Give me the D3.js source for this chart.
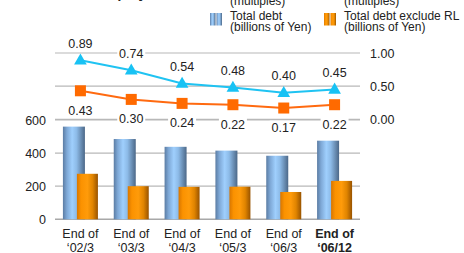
<!doctype html>
<html>
<head>
  <meta charset="utf-8">
  <title>d3</title>
  <style>
    body { margin: 0; background: #fff; }
    text { font-family: 'Liberation Sans', Arial, sans-serif; fill: #222; }
  </style>
</head>
<body>
  <svg width="464" height="253"></svg>

  <script src="https://d3js.org/d3.v7.min.js"></script>
  <script>
    const categories = ['02/3', '03/3', '04/3', '05/3', '06/3', '06/12'];
    const totalDebt = [560, 485, 438, 415, 384, 475];
    const debtExRL = [275, 200, 196, 197, 165, 232];
    const deRatio = [0.89, 0.74, 0.54, 0.48, 0.40, 0.45];
    const deRatioExRL = [0.43, 0.30, 0.24, 0.22, 0.17, 0.22];
    const leftTicks = [0, 200, 400, 600];
    const rightTicks = [0, 0.5, 1.0];

    const svg = d3.select('svg');
    const defs = svg.append('defs');

    const blueGrad = defs.append('linearGradient').attr('id', 'blue');
    [[0, '#5b7ca3'], [0.18, '#7ea8d6'], [0.42, '#9fcffd'], [0.62, '#8dbbe8'], [1, '#4c6888']]
      .forEach(([o, c]) => blueGrad.append('stop').attr('offset', o).attr('stop-color', c));
    const orangeGrad = defs.append('linearGradient').attr('id', 'orange');
    [[0, '#d87600'], [0.2, '#fb9200'], [0.5, '#ff9b0a'], [0.75, '#e08400'], [1, '#985300']]
      .forEach(([o, c]) => orangeGrad.append('stop').attr('offset', o).attr('stop-color', c));

    const x = d3.scaleBand().domain(categories).range([55, 360]);
    const yL = d3.scaleLinear().domain([0, 600]).range([219.3, 120]);
    const yR = d3.scaleLinear().domain([0, 1]).range([119.3, 53]);
    const cx = c => x(c) + x.bandwidth() / 2;

    // gridlines
    svg.append('g').selectAll('line').data(leftTicks).join('line')
      .attr('x1', 55).attr('x2', 360)
      .attr('y1', d => yL(d)).attr('y2', d => yL(d))
      .attr('stroke', d => d === 0 ? '#a8a8a8' : '#b8b8b8').attr('stroke-width', d => d === 0 ? 1.6 : 1.2);
    svg.append('g').selectAll('line').data(rightTicks).join('line')
      .attr('x1', 55).attr('x2', 360)
      .attr('y1', d => yR(d)).attr('y2', d => yR(d))
      .attr('stroke', '#b8b8b8').attr('stroke-width', 1.2);

    // axis labels
    svg.append('g').selectAll('text').data(leftTicks).join('text')
      .attr('x', 46).attr('y', d => yL(d)).attr('dy', '0.36em')
      .attr('text-anchor', 'end').attr('font-size', 12.5)
      .text(d => d);
    svg.append('g').selectAll('text').data(rightTicks).join('text')
      .attr('x', 370).attr('y', d => yR(d)).attr('dy', '0.36em')
      .attr('font-size', 12.5)
      .text(d => d.toFixed(2));

    // bars
    svg.append('g').selectAll('rect').data(totalDebt).join('rect')
      .attr('x', (d, i) => cx(categories[i]) - 17.5)
      .attr('width', 22)
      .attr('y', d => yL(d))
      .attr('height', d => yL(0) - yL(d))
      .attr('fill', 'url(#blue)');
    svg.append('g').selectAll('rect').data(debtExRL).join('rect')
      .attr('x', (d, i) => cx(categories[i]) - 3.5)
      .attr('width', 21)
      .attr('y', d => yL(d))
      .attr('height', d => yL(0) - yL(d))
      .attr('fill', 'url(#orange)');

    // lines
    const line = d3.line().x((d, i) => cx(categories[i])).y(d => yR(d));
    svg.append('path').datum(deRatio)
      .attr('fill', 'none').attr('stroke', '#1fc3f2').attr('stroke-width', 2).attr('d', line);
    svg.append('path').datum(deRatioExRL)
      .attr('fill', 'none').attr('stroke', '#ff6a10').attr('stroke-width', 2).attr('d', line);

    const tri = d3.symbol().type(d3.symbolTriangle).size(70);
    svg.append('g').selectAll('path').data(deRatio).join('path')
      .attr('transform', (d, i) => `translate(${cx(categories[i])}, ${yR(d) + 0.5})`)
      .attr('d', tri).attr('fill', '#18c2f4');
    svg.append('g').selectAll('rect').data(deRatioExRL).join('rect')
      .attr('x', (d, i) => cx(categories[i]) - 5.5)
      .attr('y', d => yR(d) - 5.5)
      .attr('width', 11).attr('height', 11)
      .attr('fill', '#ff6a00');

    // data labels with white backgrounds
    function labels(data, dy) {
      const g = svg.append('g');
      data.forEach((d, i) => {
        const lx = cx(categories[i]);
        const ly = yR(d) + dy;
        g.append('rect').attr('x', lx - 14).attr('y', ly - 7).attr('width', 28).attr('height', 14).attr('fill', '#fff');
        g.append('text').attr('x', lx).attr('y', ly).attr('dy', '0.36em')
          .attr('text-anchor', 'middle').attr('font-size', 12.5).text(d.toFixed(2));
      });
    }
    labels(deRatio, -17);
    labels(deRatioExRL, 19.5);

    // x labels
    const xl = svg.append('g').selectAll('text').data(categories).join('text')
      .attr('x', d => cx(d)).attr('text-anchor', 'middle').attr('font-size', 12.5)
      .attr('font-weight', (d, i) => i === categories.length - 1 ? 'bold' : null);
    xl.append('tspan').attr('x', d => cx(d)).attr('y', 238.3).text('End of');
    xl.append('tspan').attr('x', d => cx(d)).attr('y', 252).text(d => '\u2018' + d);

    // legend
    function icon(x0, grad) {
      [0, 6.5].forEach(o => svg.append('rect').attr('x', x0 + o).attr('y', 13).attr('width', 5.5).attr('height', 12.5).attr('fill', grad));
    }
    icon(210, 'url(#blue)');
    icon(324, 'url(#orange)');
    const legend = [
      { x: 230, lines: ['(multiples)', 'Total debt', '(billions of Yen)'] },
      { x: 344, lines: ['(multiples)', 'Total debt exclude RL', '(billions of Yen)'] }
    ];
    const ys = [5, 19.5, 31];
    legend.forEach(l => l.lines.forEach((t, i) =>
      svg.append('text').attr('x', l.x).attr('y', ys[i]).attr('font-size', 12).text(t)));

    // title (mostly above the visible area)
    svg.append('text').attr('x', 70).attr('y', -2).attr('font-size', 14).attr('font-weight', 'bold')
      .text('Debt equity ratio');
  </script>
</body>
</html>
